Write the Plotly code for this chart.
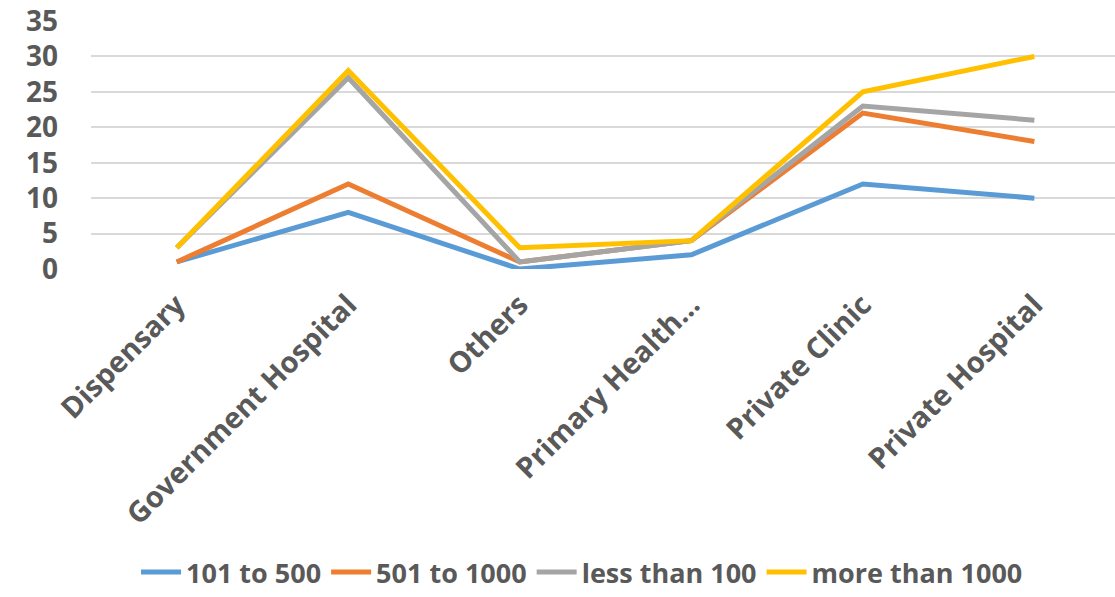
import plotly.graph_objects as go

categories = ["Dispensary", "Government Hospital", "Others", "Primary Health…",
              "Private Clinic", "Private Hospital"]

series_names = ["101 to 500", "501 to 1000", "less than 100", "more than 1000"]
v_101_500 = [1, 8, 0, 2, 12, 10]
v_501_1000 = [1, 12, 1, 4, 22, 18]
v_less_100 = [3, 27, 1, 4, 23, 21]
v_more_1000 = [3, 28, 3, 4, 25, 30]

colors = ["#5B9BD5", "#ED7D31", "#A5A5A5", "#FFC000"]
y_ticks = [0, 5, 10, 15, 20, 25, 30, 35]

TEXT = "#595959"
FONT = "Open Sans"

fig = go.Figure()
for name, vals, col in zip(series_names,
                           [v_101_500, v_501_1000, v_less_100, v_more_1000],
                           colors):
    fig.add_trace(go.Scatter(
        x=categories, y=vals, name=name, mode="lines",
        line=dict(color=col, width=5),
    ))

fig.update_layout(
    width=1115, height=597,
    margin=dict(l=91, r=0, t=21, b=328),
    paper_bgcolor="white", plot_bgcolor="white",
    font=dict(family=FONT, color=TEXT, size=26),
    showlegend=True,
    legend=dict(
        orientation="h", xref="container", yref="container",
        x=0.522, xanchor="center", y=0.0, yanchor="bottom",
        font=dict(family=FONT, size=27, color=TEXT, weight="bold"),
        itemwidth=40, tracegroupgap=0,
        borderwidth=0,
    ),
)
fig.update_xaxes(
    type="category", range=[-0.5, 5.47],
    showgrid=False, zeroline=False, showline=False, ticks="",
    tickangle=-45, ticklabelstandoff=12,
    tickfont=dict(family=FONT, size=29, color=TEXT, weight="bold"),
)
fig.update_yaxes(
    range=[0, 35], tickvals=y_ticks,
    showgrid=True, gridcolor="#D9D9D9", gridwidth=2,
    zeroline=False, showline=False, ticks="",
    ticklabelstandoff=32,
    tickfont=dict(family=FONT, size=28, color=TEXT, weight="bold"),
)

fig.write_html("out.html")
